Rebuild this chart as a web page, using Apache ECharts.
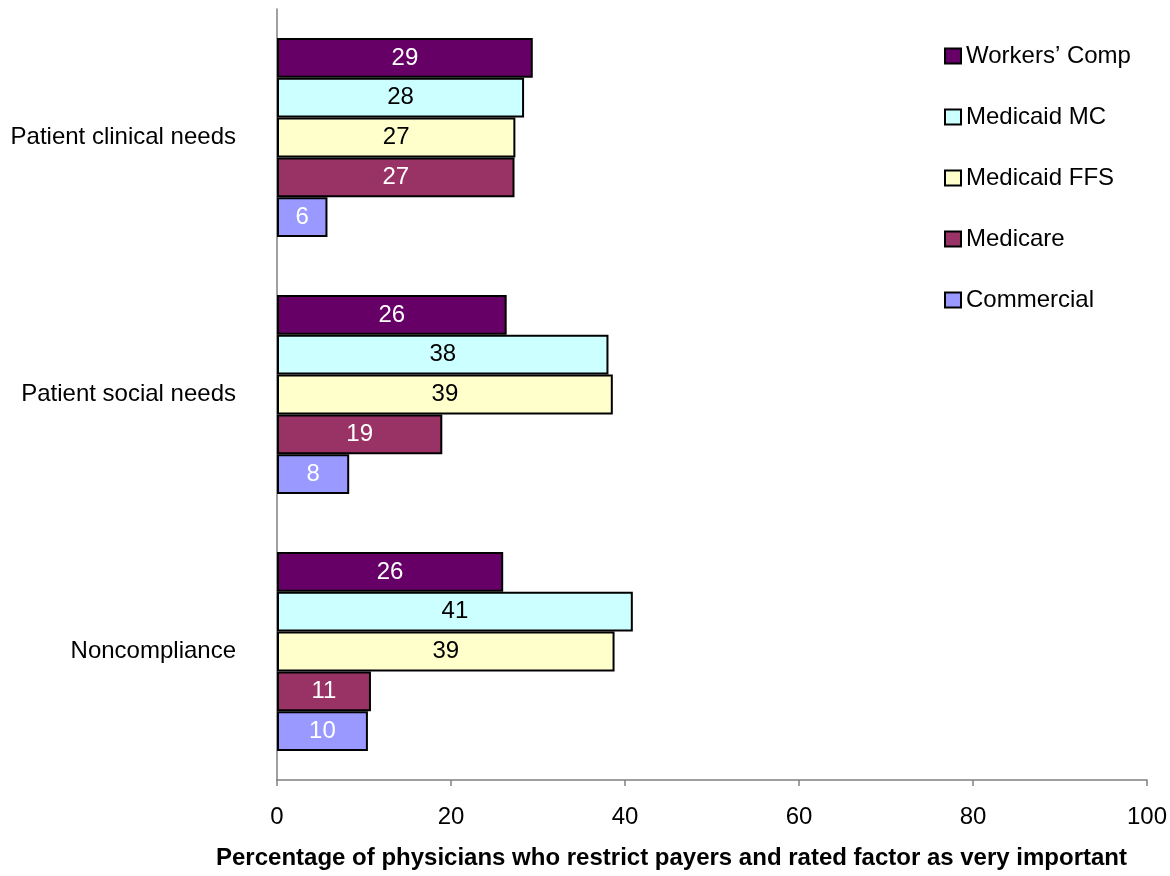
<!DOCTYPE html>
<html>
<head>
<meta charset="utf-8">
<script src="https://cdn.jsdelivr.net/npm/echarts@6/dist/echarts.min.js"></script>
<style>html,body{margin:0;padding:0;background:#fff;}#c{width:1170px;height:876px;}</style>
</head>
<body>
<div id="c"></div>
<script>
// Categories bottom-to-top (ECharts category y axis starts at bottom)
const categories = ['Noncompliance', 'Patient social needs', 'Patient clinical needs'];
const seriesNames = ['Workers\u2019 Comp', 'Medicaid MC', 'Medicaid FFS', 'Medicare', 'Commercial'];
const workersComp = [26.0, 26.4, 29.4];
const medicaidMC = [40.9, 38.1, 28.4];
const medicaidFFS = [38.8, 38.6, 27.4];
const medicare = [10.8, 19.0, 27.3];
const commercial = [10.45, 8.3, 5.8];
const xTicks = [0, 20, 40, 60, 80, 100];
const axisTitle = 'Percentage of physicians who restrict payers and rated factor as very important';

const FONT = '"Liberation Sans", Arial, sans-serif';
const colors = {
  'Workers\u2019 Comp': '#660066',
  'Medicaid MC': '#CCFFFF',
  'Medicaid FFS': '#FFFFCC',
  'Medicare': '#993366',
  'Commercial': '#9999FF'
};
const labelColors = {
  'Workers\u2019 Comp': '#ffffff',
  'Medicaid MC': '#000000',
  'Medicaid FFS': '#000000',
  'Medicare': '#ffffff',
  'Commercial': '#ffffff'
};
const dataMap = {
  'Workers\u2019 Comp': workersComp,
  'Medicaid MC': medicaidMC,
  'Medicaid FFS': medicaidFFS,
  'Medicare': medicare,
  'Commercial': commercial
};

const chart = echarts.init(document.getElementById('c'), null, {renderer: 'canvas'});
chart.setOption({
  backgroundColor: '#ffffff',
  animation: false,
  textStyle: {fontFamily: FONT},
  title: {
    text: axisTitle,
    left: 216,
    top: 846,
    padding: 0,
    textStyle: {fontFamily: FONT, fontSize: 24, fontWeight: 'bold', color: '#000'}
  },
  legend: {
    orient: 'vertical',
    left: 944,
    top: 44,
    padding: 0,
    itemWidth: 16,
    itemHeight: 15,
    itemGap: 37,
    icon: 'rect',
    data: seriesNames,
    textStyle: {fontFamily: FONT, fontSize: 24, color: '#000'}
  },
  grid: {left: 277, right: 23, top: 9, bottom: 96, containLabel: false},
  xAxis: {
    type: 'value',
    min: xTicks[0],
    max: xTicks[xTicks.length - 1],
    interval: xTicks[1] - xTicks[0],
    axisLine: {show: true, lineStyle: {color: '#808080', width: 1.5}},
    axisTick: {show: true, length: 6, lineStyle: {color: '#808080', width: 1.5}},
    splitLine: {show: false},
    axisLabel: {fontFamily: FONT, fontSize: 24, color: '#000', margin: 25}
  },
  yAxis: {
    type: 'category',
    data: categories,
    axisLine: {show: true, lineStyle: {color: '#808080', width: 1.5}},
    axisTick: {show: false},
    axisLabel: {fontFamily: FONT, fontSize: 24, color: '#000', margin: 41}
  },
  series: seriesNames.map(name => ({
    name: name,
    type: 'bar',
    data: dataMap[name],
    barGap: '0%',
    barCategoryGap: '22.6%',
    itemStyle: {color: colors[name], borderColor: '#000', borderWidth: 2},
    label: {
      show: true,
      position: 'inside',
      fontFamily: FONT,
      fontSize: 24,
      color: labelColors[name],
      formatter: p => Math.round(p.value)
    }
  }))
});
</script>
</body>
</html>
